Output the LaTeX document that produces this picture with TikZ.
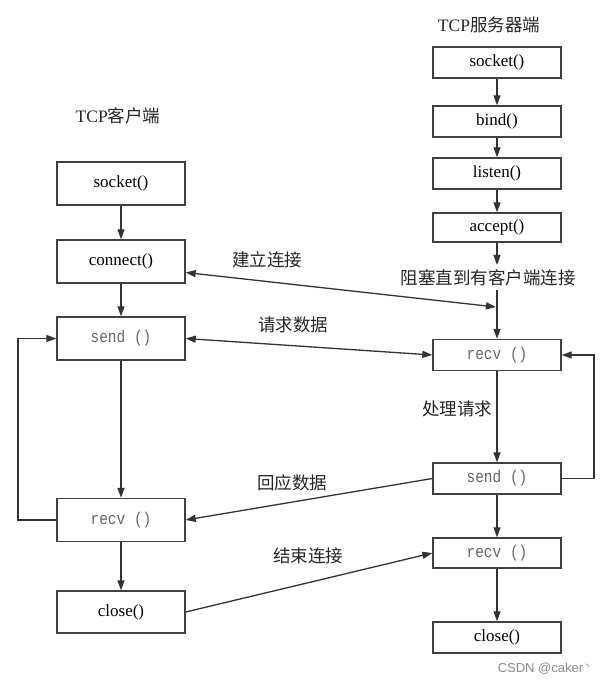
\documentclass[tikz,border=0pt]{standalone}
\usepackage{fontspec}
\setmainfont{Liberation Serif}
\newfontfamily\monof[FakeStretch=0.85]{Liberation Mono}
\newfontfamily\cjk{Noto Sans CJK SC}
\newfontfamily\wmfont{Liberation Sans}
\usetikzlibrary{arrows.meta}
\begin{document}
\begin{tikzpicture}[x=1pt,y=-1pt,
  >={Triangle[length=10pt,width=7pt]},
  ln/.style={draw=black!80,line width=1.3pt},
  boxL/.style={draw=black!75,line width=1.4pt,fill=white,minimum width=128pt,minimum height=43pt,inner sep=0pt,font=\fontsize{17}{17}\selectfont},
  boxR/.style={draw=black!75,line width=1.4pt,fill=white,minimum width=128pt,minimum height=31pt,inner sep=0pt,font=\fontsize{17}{17}\selectfont},
  mono/.style={font=\monof\fontsize{17}{17}\selectfont,text=black!60},
  lbl/.style={font=\cjk\fontsize{17.5}{18}\selectfont,text=black!85,inner sep=0pt},
  ttl/.style={font=\fontsize{17.5}{18}\selectfont,text=black!85,inner sep=0pt}
]
\fill[white] (0,0) rectangle (608,684);
\useasboundingbox (0,0) rectangle (608,684);

% titles
\node[ttl] (tL) at (118,116) {TCP{\cjk 客户端}};
\node[ttl] (tR) at (489,25) {TCP{\cjk 服务器端}};

% client column
\node[boxL] (sockL) at (121,183.5) {socket()};
\node[boxL] (connL) at (121,261.5) {connect()};
\node[boxL,mono] (sendL) at (121,338.5) {send ()};
\node[boxL,mono] (recvL) at (121,520) {recv ()};
\node[boxL,minimum height=42pt] (closeL) at (121,612) {close()};

% server column
\node[boxR] (sockR) at (497,62.5) {socket()};
\node[boxR] (bindR) at (497,121.5) {bind()};
\node[boxR] (listR) at (497,173.5) {listen()};
\node[boxR,minimum height=29pt] (accR) at (497,227.5) {accept()};
\node[lbl] (blk) at (488,278) {阻塞直到有客户端连接};
\coordinate (blkIn) at (497,265);
\coordinate (blkOut) at (497,290);
\coordinate (hit) at (496,307);
\node[boxR,mono] (recvR) at (497,355) {recv ()};
\node[boxR,mono] (sendR) at (497,478.5) {send ()};
\node[boxR,mono,minimum height=30pt] (recv2R) at (497,553) {recv ()};
\node[boxR] (closeR) at (497,637.5) {close()};

% labels
\node[lbl] (l1) at (267,260) {建立连接};
\node[lbl] (l2) at (293,325) {请求数据};
\node[lbl] (l3) at (457,409) {处理请求};
\node[lbl] (l4) at (292,483) {回应数据};
\node[lbl] (l5) at (308,556) {结束连接};

\node[font=\wmfont\fontsize{13}{13}\selectfont,text=black!45,inner sep=0pt] (wm) at (545,669) {CSDN @caker\raisebox{3pt}{\cjk{\fontsize{9}{9}\selectfont 丶}}};

% client flow
\draw[ln,->] (sockL) -- (connL);
\draw[ln,->] (connL) -- (sendL);
\draw[ln,->] (sendL) -- (recvL);
\draw[ln,->] (recvL) -- (closeL);
\coordinate (loopL1) at (18,520);
\coordinate (loopL2) at (18,338.5);
\draw[ln,->] (recvL.west) -- (loopL1) -- (loopL2) -- (sendL.west);

% server flow
\draw[ln,->] (sockR) -- (bindR);
\draw[ln,->] (bindR) -- (listR);
\draw[ln,->] (listR) -- (accR);
\draw[ln,->] (accR) -- (blkIn);
\draw[ln,->] (blkOut) -- (recvR);
\draw[ln,->] (recvR) -- (sendR);
\draw[ln,->] (sendR) -- (recv2R);
\draw[ln,->] (recv2R) -- (closeR);
\coordinate (loopR1) at (594,478.5);
\coordinate (loopR2) at (594,355);
\draw[ln,->] (sendR.east) -- (loopR1) -- (loopR2) -- (recvR.east);

% messages
\draw[ln,<->] ([yshift=-11pt]connL.east) -- (hit);
\draw[ln,<->] (sendL.east) -- (recvR.west);
\draw[ln,->] (sendR.west) -- (recvL.east);
\draw[ln,->] (closeL.east) -- (recv2R.west);
\end{tikzpicture}
\end{document}
